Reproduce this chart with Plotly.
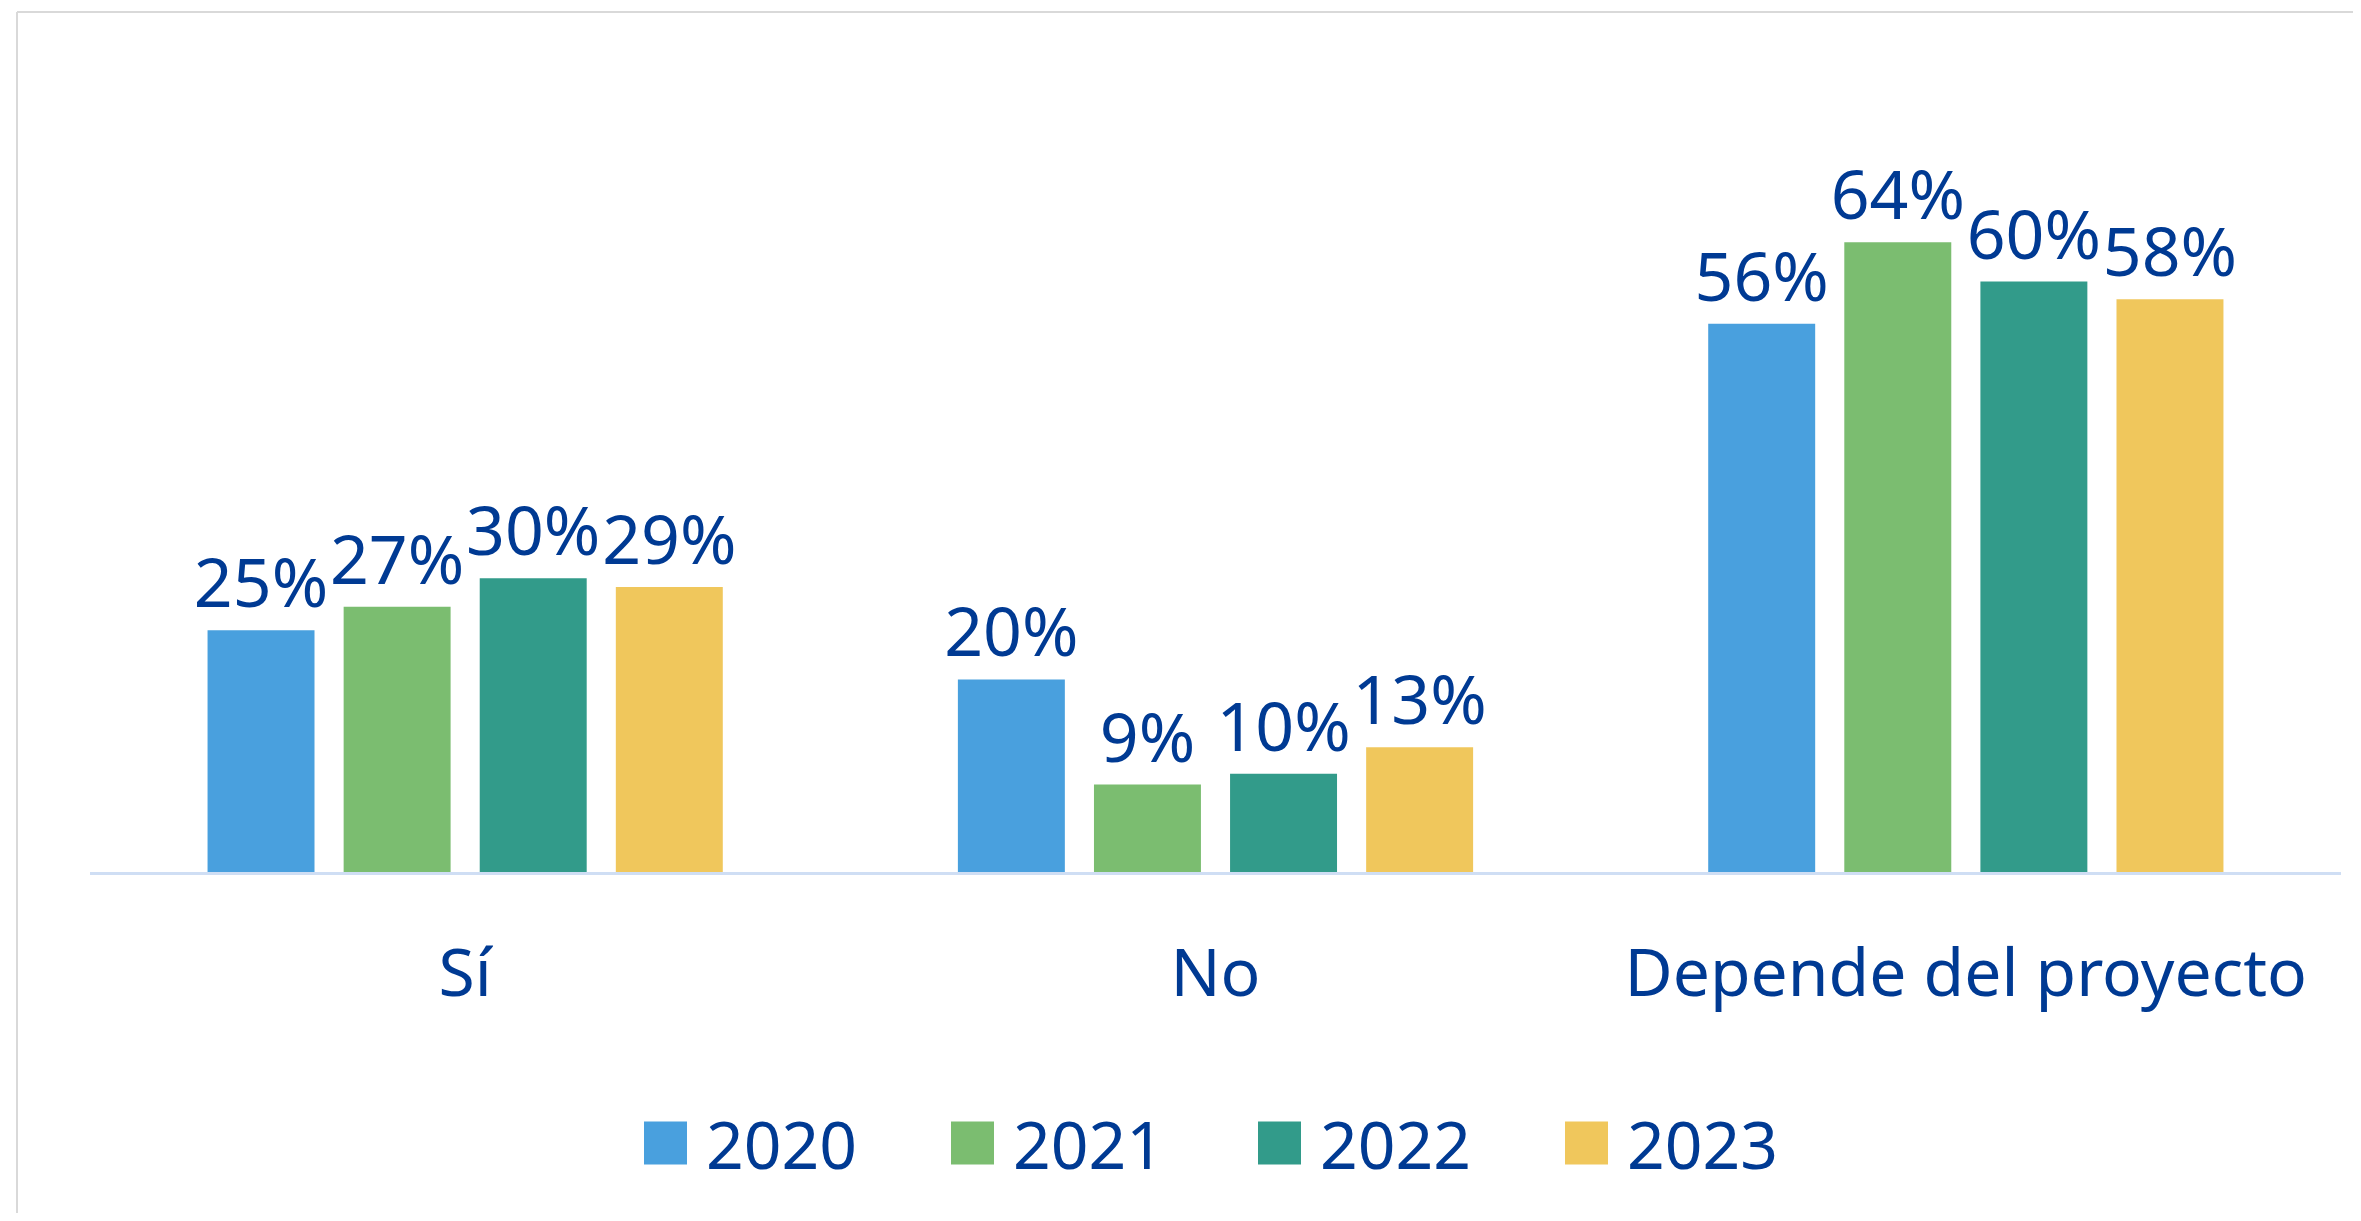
import plotly.graph_objects as go

# respuestas por año (% de encuestados)
categorias = ['Sí', 'No', 'Depende del proyecto']
años = ['2020', '2021', '2022', '2023']
v2020 = [24.6, 19.6, 55.8]
v2021 = [27.0, 8.9, 64.1]
v2022 = [29.9, 10.0, 60.1]
v2023 = [29.0, 12.7, 58.3]
valores = [v2020, v2021, v2022, v2023]

colores = ['#49A0DE', '#7BBD70', '#329B8A', '#F0C75C']
azul = '#003A93'
fuente = 'Noto Sans'

# the page body has an 8px margin, so the figure is a bit smaller than the window
W, H = 2345, 1205
ml, mr, mt, mb = 82, 12, 78, 341

fig = go.Figure()
for año, vals, col in zip(años, valores, colores):
    fig.add_trace(go.Bar(
        x=categorias, y=vals, name=año,
        marker=dict(color=col, line=dict(width=0)),
        texttemplate='%{y:.0f}%', textposition='outside',
        textfont=dict(size=68, color=azul, family=fuente),
        constraintext='none', cliponaxis=False,
        showlegend=False,
    ))


# pixel -> paper coords (for frame and legend)
def px_x(x):
    return (x - ml) / (W - ml - mr)


def px_y(y):
    return (H - mb - y) / (H - mt - mb)


shapes = [
    # frame (top and left edges only)
    dict(type='line', xref='paper', yref='paper', x0=px_x(9), x1=px_x(W + 5),
         y0=px_y(4), y1=px_y(4), line=dict(color='#D9D9D9', width=2)),
    dict(type='line', xref='paper', yref='paper', x0=px_x(9), x1=px_x(9),
         y0=px_y(4), y1=px_y(H + 5), line=dict(color='#D9D9D9', width=2)),
]
annotations = []

# legend built by hand so the squares can be big
x0, paso, lado, yc = 636, 307, 43, 1135
for i, (año, col) in enumerate(zip(años, colores)):
    xs = x0 + i * paso
    shapes.append(dict(type='rect', xref='paper', yref='paper',
                       x0=px_x(xs), x1=px_x(xs + lado),
                       y0=px_y(yc - lado / 2), y1=px_y(yc + lado / 2),
                       fillcolor=col, line=dict(width=0)))
    annotations.append(dict(text=año, xref='paper', yref='paper',
                            x=px_x(xs + 60), y=px_y(yc), xanchor='left', yanchor='middle',
                            showarrow=False, font=dict(size=66, color=azul, family=fuente)))

fig.update_layout(
    width=W, height=H,
    margin=dict(l=ml, r=mr, t=mt, b=mb),
    plot_bgcolor='white', paper_bgcolor='white',
    barmode='group', bargap=0.2745, bargroupgap=0.214,
    font=dict(family=fuente, color=azul),
    xaxis=dict(showline=True, linecolor='#CFDEF4', linewidth=3, showgrid=False,
               ticks='', tickfont=dict(size=66, color=azul, family=fuente),
               ticklabelstandoff=42),
    yaxis=dict(range=[0, 80], visible=False, showgrid=False),
    shapes=shapes,
    annotations=annotations,
)

fig.write_html('out.html')
